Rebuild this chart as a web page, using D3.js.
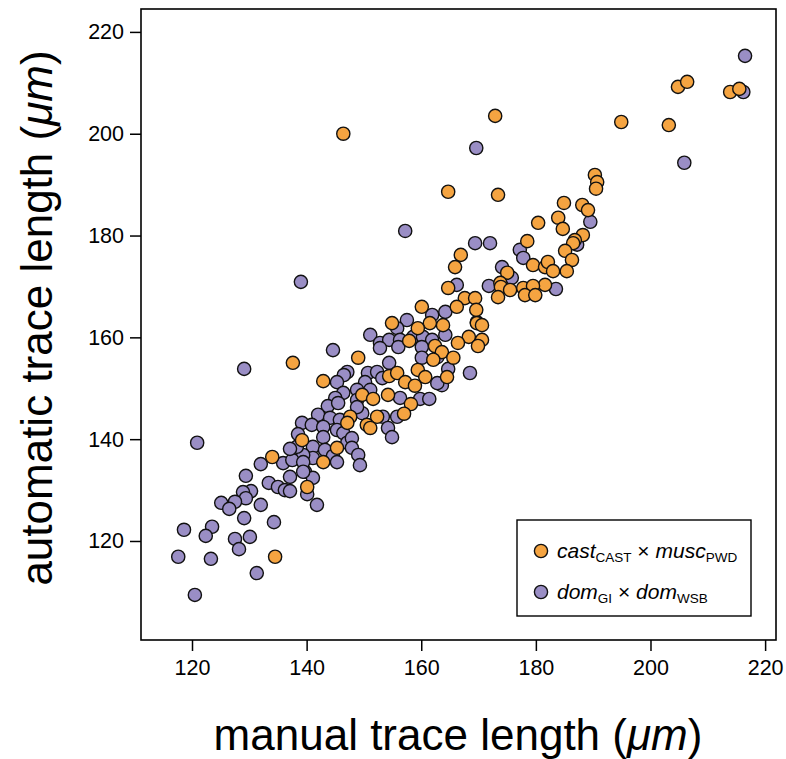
<!DOCTYPE html>
<html>
<head>
<meta charset="utf-8">
<script src="https://cdn.jsdelivr.net/npm/d3@7"></script>
<style>
  html, body { margin: 0; padding: 0; background: #fff; }
  svg { display: block; font-family: "Liberation Sans", Arial, sans-serif; }
</style>
</head>
<body>
<svg id="chart" width="786" height="759"></svg>
<script>
// ---- data ----
const xTicks = [120, 140, 160, 180, 200, 220];
const yTicks = [120, 140, 160, 180, 200, 220];

// cast_CAST x musc_PWD (orange): [manual, automatic]
const castManual = [146.4,172.9,194.9,203.2,204.8,206.4,213.9,215.5,190.3,190.7,190.5,188.1,189.1,188.2,164.7,173.4,184.9,180.4,183.9,184.7,178.5,186.8,186.5,185.1,186.3,185.4,166.9,165.9,175.0,179.5,181.6,182.1,183.0,181.6,164.7,173.8,173.9,175.5,177.8,179.5,178.1,179.9,173.4,167.6,169.4,166.2,169.6,163.8,161.5,169.7,170.6,168.3,170.6,166.4,169.9,162.4,163.6,165.6,164.5,160.1,154.9,159.4,157.9,137.6,149.0,162.1,142.9,159.4,160.7,154.4,155.8,157.2,158.9,149.7,151.6,154.2,158.2,147.6,147.1,152.3,150.5,151.1,157.0,139.2,145.3,142.9,140.1,134.0,134.5];
const castAuto   = [200.0,203.5,202.3,201.7,209.2,210.2,208.2,208.8,191.9,190.5,189.2,186.0,185.0,180.1,188.6,188.0,186.4,182.5,183.5,181.3,178.9,179.1,178.5,177.0,175.2,173.0,176.2,173.8,172.7,174.2,173.8,174.8,173.0,170.3,169.7,170.7,169.9,169.3,169.7,170.1,168.3,168.3,167.9,167.7,167.7,166.0,165.4,162.4,162.8,162.8,162.4,160.1,159.5,158.9,158.3,158.3,157.1,156.0,152.2,166.0,162.8,161.8,159.3,155.0,156.0,155.6,151.4,153.6,152.2,152.4,153.0,151.2,150.5,148.7,147.9,148.7,146.9,144.4,143.2,144.4,142.8,142.2,145.0,139.8,138.3,135.5,130.6,136.5,116.9];

// dom_GI x dom_WSB (purple): [manual, automatic]
const domManual = [216.5,216.2,205.9,189.5,169.6,157.2,139.0,169.4,172.0,187.2,177.2,177.8,174.1,175.8,183.5,166.2,171.8,164.2,161.9,169.7,164.2,162.8,164.7,168.5,163.6,157.5,155.8,151.1,152.8,154.4,152.8,156.3,156.0,158.6,160.3,161.9,160.1,144.6,154.4,160.1,147.1,146.5,145.3,150.7,152.3,153.2,150.2,151.1,148.8,146.4,145.0,148.8,159.8,161.4,156.3,143.7,162.8,145.5,142.0,144.1,145.8,149.7,153.3,154.2,154.9,155.8,139.2,140.9,142.9,142.9,145.3,146.4,141.1,143.2,147.1,147.9,147.9,149.0,149.3,144.6,145.3,141.1,139.4,139.7,141.1,140.1,141.8,120.9,132.0,129.4,130.3,128.9,129.4,127.5,125.1,126.5,132.0,129.1,134.3,123.5,122.4,118.6,127.5,130.1,128.2,117.6,123.3,131.3,120.5,133.4,135.0,136.2,137.1,137.1,135.9,137.5,139.4,139.4,138.3,129.1,137.1,138.5,148.8];
const domAuto   = [215.3,208.2,194.3,182.7,197.2,180.9,170.9,178.5,178.5,178.2,177.2,175.6,173.8,171.7,169.5,170.3,170.1,165.0,164.4,163.0,160.5,156.1,153.8,153.0,150.6,163.4,161.8,160.5,158.9,159.5,157.9,159.5,158.1,160.1,160.1,159.5,158.1,157.5,155.0,156.0,153.2,152.6,151.2,153.0,153.2,152.0,151.2,149.7,149.7,149.1,148.1,147.7,147.9,147.9,148.1,146.5,151.0,147.1,144.8,144.2,143.8,145.1,144.4,142.2,140.4,144.4,143.2,142.8,142.4,140.4,141.8,141.2,138.5,137.9,139.3,140.2,138.3,136.9,134.9,136.7,135.5,136.3,136.9,133.6,132.4,129.2,127.1,139.3,135.1,132.8,129.8,129.6,128.4,127.7,127.5,126.3,127.1,124.5,123.7,122.8,121.0,122.2,120.4,120.8,118.4,116.9,116.5,113.7,109.4,131.4,130.6,130.0,129.8,132.6,135.3,135.9,135.5,133.6,138.5,153.8,138.1,141.0,146.3];

const colors = { cast: "#F5A441", dom: "#9A8EC5" };

// ---- chart ----
const svg = d3.select("#chart");
const frame = { left: 141, right: 776, top: 9, bottom: 640 };

const x = d3.scaleLinear().domain([111.1, 221.9]).range([frame.left, frame.right]);
const y = d3.scaleLinear().domain([100.55, 224.5]).range([frame.bottom, frame.top]);

const r = 6.6;

function drawPoints(xs, ys, fill) {
  svg.append("g").selectAll("circle")
    .data(xs.map((v, i) => [v, ys[i]]))
    .join("circle")
    .attr("cx", d => x(d[0]))
    .attr("cy", d => y(d[1]))
    .attr("r", r)
    .attr("fill", fill)
    .attr("stroke", "#111")
    .attr("stroke-width", 1.4);
}
drawPoints(domManual, domAuto, colors.dom);
drawPoints(castManual, castAuto, colors.cast);

// frame
svg.append("rect")
  .attr("x", frame.left).attr("y", frame.top)
  .attr("width", frame.right - frame.left).attr("height", frame.bottom - frame.top)
  .attr("fill", "none").attr("stroke", "#000").attr("stroke-width", 1.6);

// axes
const gx = svg.append("g").attr("transform", `translate(0,${frame.bottom})`)
  .call(d3.axisBottom(x).tickValues(xTicks).tickSize(11).tickPadding(9).tickFormat(d3.format("d")));
const gy = svg.append("g").attr("transform", `translate(${frame.left},0)`)
  .call(d3.axisLeft(y).tickValues(yTicks).tickSize(11).tickPadding(6).tickFormat(d3.format("d")));
[gx, gy].forEach(g => {
  g.select(".domain").remove();
  g.selectAll(".tick line").attr("stroke", "#000").attr("stroke-width", 1.5);
  g.selectAll(".tick text").attr("fill", "#000")
    .style("font-size", "21.5px").style("font-family", "Liberation Sans, Arial, sans-serif");
});

// axis titles
const xt = svg.append("text")
  .attr("x", 458).attr("y", 750)
  .attr("text-anchor", "middle")
  .style("font-size", "44px").attr("fill", "#000");
xt.append("tspan").text("manual trace length (");
xt.append("tspan").attr("font-style", "italic").text("μm");
xt.append("tspan").text(")");

const yt = svg.append("text")
  .attr("transform", "translate(52,318) rotate(-90)")
  .attr("text-anchor", "middle")
  .style("font-size", "44px").attr("fill", "#000");
yt.append("tspan").text("automatic trace length (");
yt.append("tspan").attr("font-style", "italic").text("μm");
yt.append("tspan").text(")");

// legend
const lg = svg.append("g");
lg.append("rect")
  .attr("x", 517).attr("y", 520).attr("width", 234).attr("height", 96)
  .attr("fill", "#fff").attr("stroke", "#000").attr("stroke-width", 1.4);

function legendRow(yy, fill, parts) {
  lg.append("circle").attr("cx", 541).attr("cy", yy).attr("r", r)
    .attr("fill", fill).attr("stroke", "#111").attr("stroke-width", 1.4);
  const t = lg.append("text").attr("x", 557).attr("y", yy + 7)
    .style("font-size", "21px").attr("fill", "#000");
  parts.forEach(p => {
    const s = t.append("tspan").text(p.t);
    if (p.it) s.attr("font-style", "italic");
    if (p.sub) s.style("font-size", "13.5px").attr("dy", 4);
    if (p.back) s.attr("dy", -4);
  });
}
legendRow(551, colors.cast, [
  { t: "cast", it: true }, { t: "CAST", sub: true },
  { t: " × ", back: true }, { t: "musc", it: true }, { t: "PWD", sub: true }
]);
legendRow(592, colors.dom, [
  { t: "dom", it: true }, { t: "GI", sub: true },
  { t: " × ", back: true }, { t: "dom", it: true }, { t: "WSB", sub: true }
]);
</script>
</body>
</html>
